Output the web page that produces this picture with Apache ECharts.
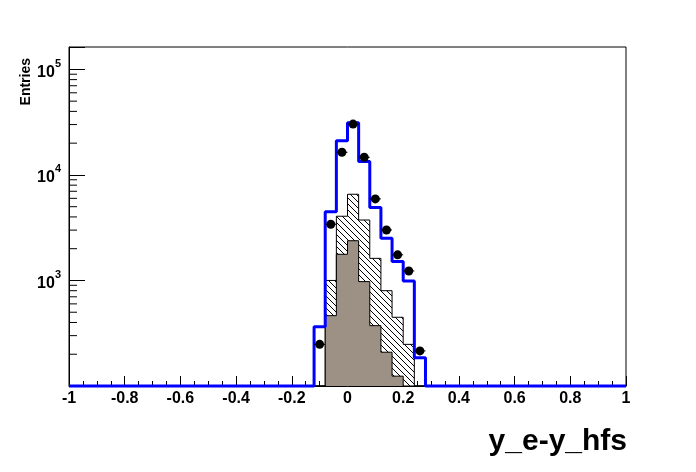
<!DOCTYPE html>
<html>
<head>
<meta charset="utf-8">
<script src="https://cdn.jsdelivr.net/npm/echarts/dist/echarts.min.js"></script>
<style>
html,body{margin:0;padding:0;background:#fff;}
#chart{width:696px;height:472px;}
</style>
</head>
<body>
<div id="chart"></div>
<script>
// ---------- axis definitions ----------
const X_MIN = -1, X_MAX = 1, BIN_WIDTH = 0.04, X_TICK_STEP = 0.2;
const Y_MIN = 100, Y_MAX = 163000;
const Y_LABELED = [1000, 10000, 100000];
const Y_MINOR_TICKS = [200,300,400,500,600,700,800,900,
                       2000,3000,4000,5000,6000,7000,8000,9000,
                       20000,30000,40000,50000,60000,70000,80000,90000];
const X_TITLE = 'y_e-y_hfs';
const Y_TITLE = 'Entries';

// ---------- histogram contents (only non-empty region, bin width 0.04) ----------
// blue outline histogram, first bin low edge
const totalFirstEdge = -0.12;
const totalValues = [365, 4490, 21100, 31300, 13400, 4900, 2510, 1510, 988, 185];
// hatched histogram
const hatchedFirstEdge = -0.08;
const hatchedValues = [1000, 4060, 6560, 3740, 1620, 800, 448, 248];
// brown filled histogram
const brownFirstEdge = -0.08;
const brownValues = [464, 1770, 2380, 975, 373, 209, 124];
// data points (bin centres)
const dataFirstCenter = -0.10;
const dataValues = [248, 3410, 16400, 30300, 14700, 5930, 3010, 1750, 1230, 215];

// ---------- helpers ----------
const NBINS = Math.round((X_MAX - X_MIN) / BIN_WIDTH);
function fullBins(firstEdge, vals) {
  const out = new Array(NBINS).fill(0);
  const i0 = Math.round((firstEdge - X_MIN) / BIN_WIDTH);
  vals.forEach((v, k) => { out[i0 + k] = v; });
  return out;
}
function stepData(bins) {
  const pts = bins.map((v, i) => [+(X_MIN + i * BIN_WIDTH).toFixed(4), Math.max(v, Y_MIN)]);
  pts.push([X_MAX, Math.max(bins[bins.length - 1], Y_MIN)]);
  return pts;
}
function hatchPattern() {
  const s = 6;
  const c = document.createElement('canvas');
  c.width = s; c.height = s;
  const g = c.getContext('2d');
  g.fillStyle = '#fff'; g.fillRect(0, 0, s, s);
  g.strokeStyle = '#000'; g.lineWidth = 1;
  g.beginPath();
  g.moveTo(-1, -1); g.lineTo(s + 1, s + 1);
  g.moveTo(-1, s - 1); g.lineTo(1, s + 1);
  g.moveTo(s - 1, -1); g.lineTo(s + 1, 1);
  g.stroke();
  return c;
}

const FONT = '"Liberation Sans", Arial, Helvetica, sans-serif';
const chart = echarts.init(document.getElementById('chart'), null, {renderer: 'canvas'});

const option = {
  animation: false,
  backgroundColor: '#fff',
  grid: {
    left: 69, right: 70, top: 47, bottom: 86,
    show: true, borderColor: '#000', borderWidth: 1, backgroundColor: '#fff',
    containLabel: false, outerBoundsMode: 'none'
  },
  xAxis: {
    type: 'value', min: X_MIN, max: X_MAX, interval: X_TICK_STEP,
    axisLine: {show: true, onZero: false, lineStyle: {color: '#000', width: 1}},
    axisTick: {show: true, inside: true, length: 10, lineStyle: {color: '#000', width: 1}},
    minorTick: {show: true, splitNumber: 4, length: 5, lineStyle: {color: '#000', width: 1}},
    splitLine: {show: false},
    axisLabel: {
      show: true, margin: 5, color: '#000', fontFamily: FONT, fontWeight: 'bold', fontSize: 16,
      showMinLabel: true, showMaxLabel: true,
      formatter: v => String(+v.toFixed(2))
    }
  },
  yAxis: {
    type: 'log', logBase: 10, min: Y_MIN, max: Y_MAX,
    axisLine: {show: true, onZero: false, lineStyle: {color: '#000', width: 1}},
    axisTick: {show: true, inside: true, length: 16, lineStyle: {color: '#000', width: 1}},
    splitLine: {show: false},
    minorTick: {show: false},
    axisLabel: {
      show: true, margin: 8, color: '#000',
      showMinLabel: true, showMaxLabel: true,
      formatter: v => {
        const hit = Y_LABELED.find(t => Math.abs(Math.log10(v) - Math.log10(t)) < 1e-6);
        if (!hit) return '';
        return '{b|10}{s|' + Math.round(Math.log10(hit)) + '}';
      },
      rich: {
        b: {fontFamily: FONT, fontWeight: 'bold', fontSize: 16, color: '#000', lineHeight: 22, verticalAlign: 'bottom'},
        s: {fontFamily: FONT, fontWeight: 'bold', fontSize: 11, color: '#000', lineHeight: 14, verticalAlign: 'top'}
      }
    }
  },
  graphic: [
    {type: 'text', x: 627, y: 442, z: 100,
     style: {text: X_TITLE, font: 'bold 30px ' + FONT, fill: '#000', textAlign: 'right', textVerticalAlign: 'middle'}},
    {type: 'text', x: 26, y: 58, rotation: Math.PI / 2, z: 100,
     style: {text: Y_TITLE, font: 'bold 14px ' + FONT, fill: '#000', textAlign: 'right', textVerticalAlign: 'middle'}}
  ],
  series: [
    {
      name: 'hatched', type: 'line', step: 'end', symbol: 'none', z: 2,
      data: stepData(fullBins(hatchedFirstEdge, hatchedValues)),
      lineStyle: {color: '#000', width: 1},
      itemStyle: {color: '#000'},
      areaStyle: {color: {image: hatchPattern(), repeat: 'repeat'}, opacity: 1, origin: 'start'}
    },
    {
      name: 'brown', type: 'line', step: 'end', symbol: 'none', z: 3,
      data: stepData(fullBins(brownFirstEdge, brownValues)),
      lineStyle: {color: '#000', width: 1},
      itemStyle: {color: '#000'},
      areaStyle: {color: '#9d9185', opacity: 1, origin: 'start'}
    },
    {
      name: 'total', type: 'line', step: 'end', symbol: 'none', z: 4, clip: false,
      data: stepData(fullBins(totalFirstEdge, totalValues)),
      lineStyle: {color: '#0000ff', width: 3},
      itemStyle: {color: '#0000ff'}
    },
    {
      name: 'yMinorTicks', type: 'custom', z: 5, silent: true,
      data: Y_MINOR_TICKS.map(v => [X_MIN, v]),
      renderItem: (params, api) => {
        const p = api.coord([api.value(0), api.value(1)]);
        return {type: 'line', shape: {x1: p[0], y1: p[1], x2: p[0] + 8, y2: p[1]},
                style: {stroke: '#000', lineWidth: 1}};
      }
    },
    {
      name: 'data', type: 'custom', z: 10, silent: true,
      data: dataValues.map((v, i) => [+(dataFirstCenter + i * BIN_WIDTH).toFixed(4), v]),
      renderItem: (params, api) => {
        const x = api.value(0), y = api.value(1);
        const c = api.coord([x, y]);
        const l = api.coord([x - BIN_WIDTH / 2, y]);
        const r = api.coord([x + BIN_WIDTH / 2, y]);
        return {type: 'group', children: [
          {type: 'line', shape: {x1: l[0], y1: c[1], x2: r[0], y2: c[1]}, style: {stroke: '#000', lineWidth: 1}},
          {type: 'circle', shape: {cx: c[0], cy: c[1], r: 4.5}, style: {fill: '#000'}}
        ]};
      }
    }
  ]
};
chart.setOption(option);
</script>
</body>
</html>
